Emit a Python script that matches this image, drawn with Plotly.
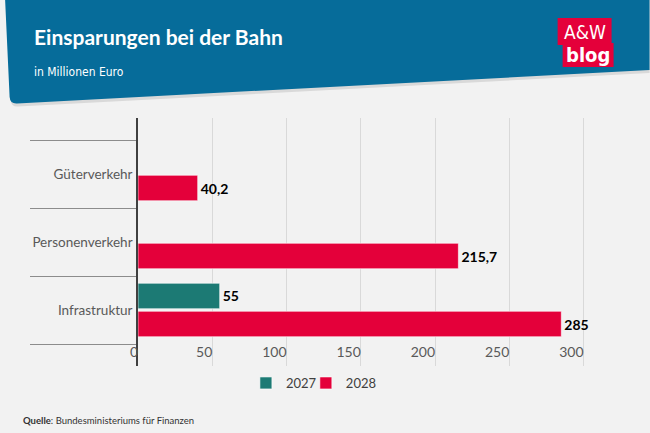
import plotly.graph_objects as go

# ---------------- data ----------------
categories = ["Infrastruktur", "Personenverkehr", "Güterverkehr"]  # bottom -> top
values_2027 = [55, None, None]
values_2028 = [285, 215.7, 40.2]
series_names = ["2027", "2028"]
x_ticks = [0, 50, 100, 150, 200, 250, 300]

title_text = "Einsparungen bei der Bahn"
subtitle_text = "in Millionen Euro"
source_text = "<b>Quelle</b>: Bundesministeriums für Finanzen"

# ---------------- geometry helpers ----------------
W, H = 650, 433
ML, MR, MT, MB = 138, 58.6, 118, 67
PW = W - ML - MR
PH = H - MT - MB


def px(x):
    return (x - ML) / PW


def py(y):
    return (H - MB - y) / PH


def fmt(v):
    if v is None:
        return ""
    return ("%g" % v).replace(".", ",")


BLUE = "#066c9a"
RED = "#e4003a"
TEAL = "#1c7a74"
NARROW = "Liberation Sans Narrow, DejaVu Sans Condensed, Roboto, sans-serif"
TICKFONT = "Lato, Roboto, sans-serif"

fig = go.Figure()
fig.add_trace(go.Bar(
    y=categories, x=values_2028, name=series_names[1], orientation="h",
    marker=dict(color=RED, line=dict(color="rgba(255,255,255,0.6)", width=1)),
    text=[fmt(v) for v in values_2028], textposition="outside",
    textfont=dict(family=TICKFONT, size=14, color="#000000"),
    texttemplate="<b>%{text}</b>", cliponaxis=False, legend="legend2",
))
fig.add_trace(go.Bar(
    y=categories, x=values_2027, name=series_names[0], orientation="h",
    marker=dict(color=TEAL, line=dict(color="rgba(255,255,255,0.6)", width=1)),
    text=[fmt(v) for v in values_2027], textposition="outside",
    textfont=dict(family=TICKFONT, size=14, color="#000000"),
    texttemplate="<b>%{text}</b>", cliponaxis=False, legend="legend",
))

y_lo = -0.5 - (H - MB - 344) / 68
y_hi = 2.5 + (140 - 118) / 68
x_hi = 300 + (W - MR - 584) / (446 / 300)

shapes = []
# header shadow
shapes.append(dict(
    type="path", xref="paper", yref="paper", layer="below",
    path=("M %f,%f L %f,%f L %f,%f L %f,%f Q %f,%f %f,%f Z" % (
        px(6), py(0), px(650), py(0), px(650), py(73),
        px(18), py(106.5), px(11), py(107), px(10.5), py(100))),
    fillcolor="rgba(0,0,0,0.10)", line=dict(width=0),
))
# header
shapes.append(dict(
    type="path", xref="paper", yref="paper", layer="below",
    path=("M %f,%f L %f,%f L %f,%f L %f,%f Q %f,%f %f,%f Z" % (
        px(5), py(0), px(650), py(0), px(650), py(70),
        px(17), py(103.5), px(10), py(104), px(9.5), py(97))),
    fillcolor=BLUE, line=dict(width=0),
))
# logo boxes
shapes.append(dict(type="rect", xref="paper", yref="paper",
                   x0=px(558), x1=px(612), y0=py(45), y1=py(18),
                   fillcolor=RED, line=dict(width=0)))
shapes.append(dict(type="rect", xref="paper", yref="paper",
                   x0=px(563), x1=px(614), y0=py(67), y1=py(43),
                   fillcolor=RED, line=dict(width=0)))

annotations = [
    dict(text="<b>" + title_text + "</b>", xref="paper", yref="paper",
         x=px(32), y=py(36), xanchor="left", yanchor="middle", showarrow=False,
         font=dict(family=TICKFONT, size=21, color="white")),
    dict(text=subtitle_text, xref="paper", yref="paper",
         x=px(32), y=py(72), xanchor="left", yanchor="middle", showarrow=False,
         font=dict(family=NARROW, size=12, color="white")),
    dict(text="A&amp;W", xref="paper", yref="paper",
         x=px(585), y=py(32), xanchor="center", yanchor="middle", showarrow=False,
         font=dict(family=NARROW, size=19, color="white")),
    dict(text="<b>blog</b>", xref="paper", yref="paper",
         x=px(588.5), y=py(55), xanchor="center", yanchor="middle", showarrow=False,
         font=dict(family=NARROW, size=20, color="white")),
    dict(text=source_text, xref="paper", yref="paper",
         x=px(21), y=py(420), xanchor="left", yanchor="middle", showarrow=False,
         font=dict(family=TICKFONT, size=9.5, color="#333333")),
]

legend_common = dict(orientation="h", yanchor="middle", xanchor="left",
                     entrywidth=45,
                     font=dict(family=TICKFONT, size=13, color="#404040"),
                     bgcolor="rgba(0,0,0,0)")

fig.update_layout(
    width=W, height=H,
    margin=dict(l=ML, r=MR, t=MT, b=MB, pad=0),
    paper_bgcolor="#f2f2f2", plot_bgcolor="#f2f2f2",
    barmode="group", bargap=0.176, bargroupgap=0.09,
    separators=",.",
    showlegend=True,
    legend=dict(x=px(246), y=py(383), **legend_common),
    legend2=dict(x=px(306), y=py(383), **legend_common),
    shapes=shapes, annotations=annotations,
    xaxis=dict(range=[0, x_hi], tickvals=x_ticks,
               ticktext=[str(t) for t in x_ticks],
               showgrid=True, gridcolor="#d9d9d9", gridwidth=1,
               zeroline=False, showline=False, ticks="",
               ticklabelposition="inside left", ticklabeloverflow="allow",
               tickfont=dict(family=TICKFONT, size=14, color="#595959")),
    yaxis=dict(type="category", categoryorder="array", categoryarray=categories,
               range=[y_lo, y_hi], showgrid=False, zeroline=False,
               showline=True, linecolor="#404040", linewidth=1.5,
               ticks="outside", tickson="boundaries", ticklen=106,
               tickcolor="#8c8c8c", tickwidth=1,
               ticklabelstandoff=1,
               tickfont=dict(family=TICKFONT, size=13.5, color="#595959")),
)

fig.write_html("out.html")
